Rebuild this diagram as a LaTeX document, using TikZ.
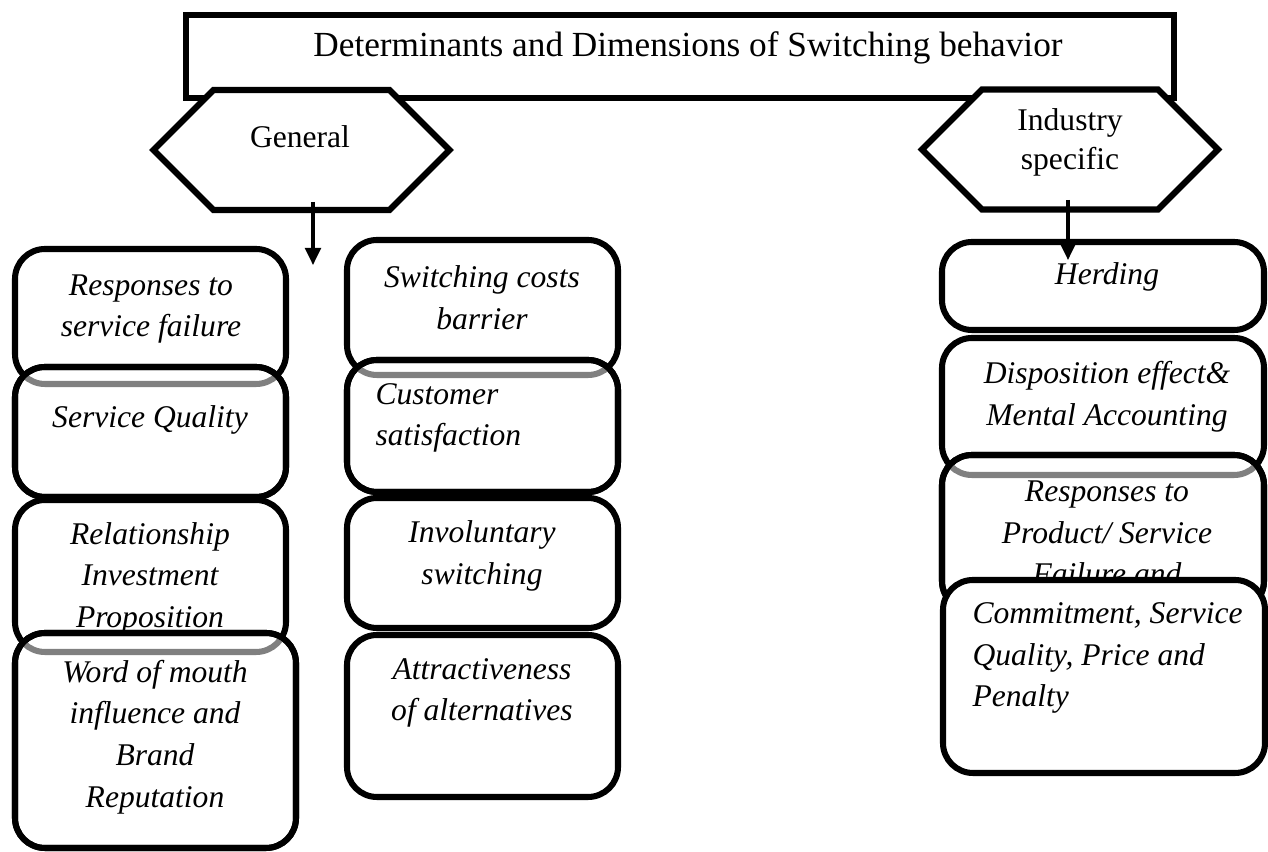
\documentclass[tikz,border=0pt]{standalone}
\usepackage{fontspec}
\setmainfont{Liberation Serif}
\usetikzlibrary{arrows.meta}
\newcommand\bodyfont{\fontsize{12}{15.8}\selectfont}
\newcommand\titlefont{\fontsize{13.4}{16}\selectfont}
\newcommand\DrawHexagon[3]{% name, centre x, centre y
  \draw[hexline] (#2-148,#3) -- (#2-88,#3-60) -- (#2+88,#3-60) -- (#2+148,#3)
    -- (#2+88,#3+60) -- (#2-88,#3+60) -- cycle;
  \coordinate (#1) at (#2,#3);
}
\newcommand\PlaceBox[5]{% name, x, y, width, height
  \node[roundbox, minimum width=#4*\unitpx, minimum height=#5*\unitpx] (#1) at (#2,#3) {};
}
\newcommand\SeenEdge[2]{% bottom edge of box #1 shows through box #2
  \begin{scope}
    \clip[rounded corners=\rad] (#2.south west) rectangle (#2.north east);
    \draw[seenline] ([yshift=\rad]#1.south west) -- (#1.south west)
      -- (#1.south east) -- ([yshift=\rad]#1.south east);
  \end{scope}
  \draw[boxline] (#2.south west) rectangle (#2.north east);
}
\begin{document}
\begin{tikzpicture}[x=0.38pt,y=-0.38pt]

%% sizes
\def\unitpx{0.38pt} % one pixel of the sketch
\def\rad{11.4pt} % corner radius

\tikzset{
  boxline/.style={line width=2.3pt, rounded corners=\rad},
  roundbox/.style={boxline, draw, fill=white, inner sep=0pt, outer sep=0pt},
  seenline/.style={line width=2.3pt, draw=black!50, rounded corners=\rad},
  hexline/.style={line width=2.3pt, fill=white},
  itext/.style={font=\bodyfont\itshape, align=center, inner sep=0pt},
  ltext/.style={font=\bodyfont\itshape, align=left, anchor=west, inner sep=0pt},
  htext/.style={align=center, inner sep=0pt},
  link/.style={line width=1.2pt, -{Triangle[length=6.5pt,width=6pt]}},
}
\useasboundingbox (0,0) rectangle (1268,852);

%% heading
\node[draw, line width=2.3pt, minimum width=988*\unitpx, minimum height=83*\unitpx,
  inner sep=0pt, outer sep=0pt] (head) at (680,56.5) {};
\node[htext, font=\titlefont] (headtext) at (688,48) {Determinants and Dimensions of Switching behavior};

\DrawHexagon{general}{301.5}{150}
\DrawHexagon{industry}{1070}{149.5}
\node[htext, font=\bodyfont] (generaltext) at (300,137) {General};
\node[htext, font=\fontsize{12}{14.8}\selectfont] (industrytext) at (1070,142) {Industry\\specific};

\coordinate (generalfoot) at (313,202);
\coordinate (generaltip) at (313,265);
\coordinate (industryfoot) at (1068,200);
\coordinate (industrytip) at (1068,260);

%% general: first column
\PlaceBox{l1}{150.5}{316.5}{271}{135}
\node[itext] (l1text) at (151,309) {Responses to\\service failure};
\PlaceBox{l2}{150.5}{432}{271}{130}
\SeenEdge{l1}{l2}
\node[itext] (l2text) at (150,420) {Service Quality};
\PlaceBox{l3}{150.5}{576}{271}{152}
\node[itext] (l3text) at (150,578) {Relationship\\Investment\\Proposition};
\PlaceBox{l4}{155.5}{740.5}{281}{215}
\SeenEdge{l3}{l4}
\node[itext] (l4text) at (155,737) {Word of mouth\\influence and\\Brand\\Reputation};

%% general: second column
\PlaceBox{m1}{482.5}{307.5}{271}{135}
\node[itext] (m1text) at (482,298) {Switching costs\\barrier};
\PlaceBox{m2}{482.5}{426}{271}{132}
\SeenEdge{m1}{m2}
\node[ltext] (m2text) at (375,418) {Customer\\satisfaction};
\PlaceBox{m3}{482.5}{563}{271}{130}
\node[itext] (m3text) at (482,556) {Involuntary\\switching};
\PlaceBox{m4}{482.5}{716}{271}{162}
\node[itext] (m4text) at (482,693) {Attractiveness\\of alternatives};

%% industry specific
\PlaceBox{r1}{1103}{286}{322}{88}
\node[itext] (r1text) at (1107,277) {Herding};
\PlaceBox{r2}{1103}{406.5}{322}{137}
\node[itext] (r2text) at (1107,397) {Disposition effect\&\\Mental Accounting};
\PlaceBox{r3}{1103}{533}{322}{156}
\SeenEdge{r2}{r3}
\node[itext] (r3text) at (1107,533) {Responses to\\Product/ Service\\Failure and};
\PlaceBox{r4}{1104}{676.5}{322}{193}
\node[ltext] (r4text) at (972,658) {Commitment, Service\\Quality, Price and\\Penalty};

%% arrows
\draw[link] (generalfoot) -- (generaltip);
\draw[link] (industryfoot) -- (industrytip);

\end{tikzpicture}
\end{document}
